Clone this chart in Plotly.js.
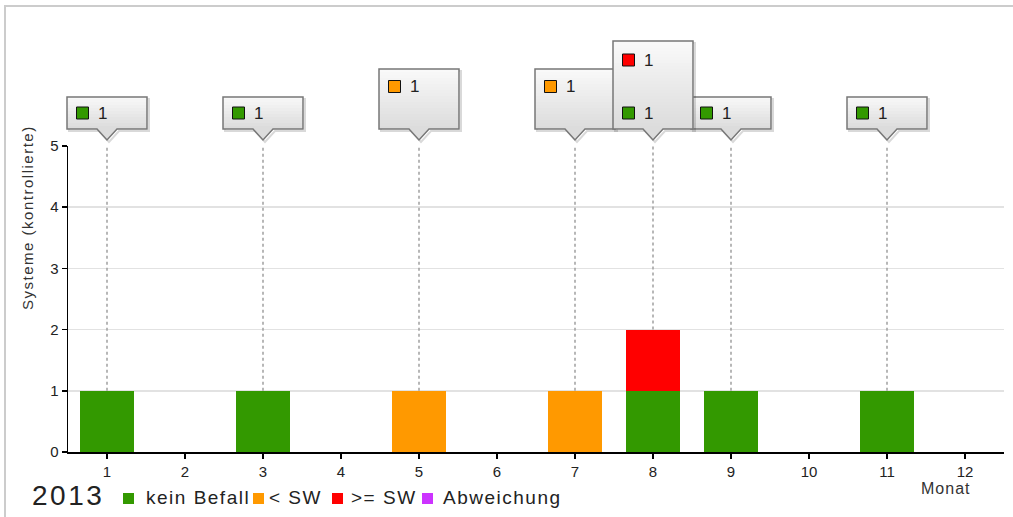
<!DOCTYPE html>
<html>
<head>
<meta charset="utf-8">
<script src="https://cdn.plot.ly/plotly-3.0.1.min.js"></script>
<style>
html,body{margin:0;padding:0;background:#fff;overflow:hidden;}
#frame{position:absolute;left:4px;top:5px;width:1009px;height:512px;border-top:2px solid #cccccc;border-left:2px solid #cccccc;box-sizing:border-box;}
#chart{position:absolute;left:0;top:0;width:1013px;height:517px;}
</style>
</head>
<body>
<div id="frame"></div>
<div id="chart"></div>
<script>
// ---- data ----
const months = [1,2,3,4,5,6,7,8,9,10,11,12];
const monthLabels = ['1','2','3','4','5','6','7','8','9','10','11','12'];
const keinBefall = [1,0,1,0,0,0,0,1,1,0,1,0];
const unterSW    = [0,0,0,0,1,0,1,0,0,0,0,0];
const ueberSW    = [0,0,0,0,0,0,0,1,0,0,0,0];
const abweichung = [0,0,0,0,0,0,0,0,0,0,0,0];
const seriesNames = ['kein Befall','&lt; SW','&gt;= SW','Abweichung'];
const seriesColors = ['#339900','#ff9900','#ff0000','#cc33ff'];
const yTicks = [0,1,2,3,4,5];
const yearLabel = '2013';
const yTitle = 'Systeme (kontrollierte)';
const xTitle = 'Monat';

// ---- styling ----
const FONT = 'Liberation Sans, Arial, sans-serif';
const TXT = '#222222';
const sp = (t, ls) => '<span style="letter-spacing:' + ls + 'px">' + t + '</span>';

const series = [keinBefall, unterSW, ueberSW, abweichung];
const traces = series.map((vals, s) => ({
  type: 'bar',
  x: months,
  y: vals,
  name: seriesNames[s],
  width: 0.68,
  marker: {color: seriesColors[s], line: {width: 0}},
  showlegend: false,
  hoverinfo: 'skip'
}));

const yMax = yTicks[yTicks.length - 1];
const baseShapes = [];
const annotations = [];

function hex(c){return [parseInt(c.substr(1,2),16),parseInt(c.substr(3,2),16),parseInt(c.substr(5,2),16)];}
function lerp(a,b,t){const A=hex(a),B=hex(b);return 'rgb('+A.map((v,i)=>Math.round(v+(B[i]-v)*t)).join(',')+')';}

// callouts: one per month with observations
const callouts = [];
months.forEach((m, i) => {
  const vals = series.map(s => s[i]);
  const total = vals.reduce((a, b) => a + b, 0);
  if (total <= 0) return;
  let maxRow = 0;
  vals.forEach((v, s) => { if (v > 0) maxRow = s + 1; });
  callouts.push({m, vals, total, maxRow});
});
callouts.forEach(c => {
  baseShapes.push({type:'line', xref:'x', yref:'y', x0:c.m, x1:c.m, y0:c.total, y1:yMax,
    line:{color:'#a0a0a0', width:1.5, dash:'dot'}, layer:'above'});
  c.vals.forEach((v, s) => {
    if (v <= 0) return;
    annotations.push({xref:'x', yref:'paper', x:c.m, y:1, xanchor:'left', yanchor:'middle', xshift:-11, yshift:33 + 26.5 * s,
      text:String(v), showarrow:false, font:{family:FONT, size:17, color:TXT}});
  });
});

function calloutShapes(toPaper) {
  const out = [];
  callouts.slice().sort((a,b)=>a.maxRow-b.maxRow).forEach(c => {
    const top = 49 + 28 * (c.maxRow - 1), bot = 17, L = -40, R = 40, tip = 6;
    const base = {xref:'paper', yref:'paper', xsizemode:'pixel', ysizemode:'pixel', xanchor:toPaper(c.m), yanchor:1, layer:'above'};
    const outline = (dx, dy) => 'M'+(L+dx)+','+(top+dy)+'L'+(R+dx)+','+(top+dy)+'L'+(R+dx)+','+(bot+dy)+
        'L'+(10+dx)+','+(bot+dy)+'L'+dx+','+(tip+dy)+'L'+(-10+dx)+','+(bot+dy)+'L'+(L+dx)+','+(bot+dy)+'Z';
    out.push(Object.assign({}, base, {type:'path', path:outline(2,-2), fillcolor:'rgba(0,0,0,0)', line:{color:'rgba(0,0,0,0.15)', width:2}}));
    const step = 3;
    for (let y = bot; y < top; y += step) {
      const y2 = Math.min(top, y + step + 0.6);
      const t = (y - bot) / (top - bot);
      out.push(Object.assign({}, base, {type:'rect', x0:L, x1:R, y0:y, y1:y2, fillcolor:lerp('#dcdcdc','#fafafa',t), line:{width:0}}));
    }
    out.push(Object.assign({}, base, {type:'path', path:'M-10,'+(bot+0.8)+'L10,'+(bot+0.8)+'L0,'+tip+'Z', fillcolor:'#dcdcdc', line:{width:0}}));
    out.push(Object.assign({}, base, {type:'path', path:outline(0,0), fillcolor:'rgba(0,0,0,0)', line:{color:'#777777', width:1.5}}));
    c.vals.forEach((v, s) => {
      if (v <= 0) return;
      const cy = 33 + 26.5 * s;
      out.push(Object.assign({}, base, {type:'rect', x0:-30.5, x1:-18.5, y0:cy-6, y1:cy+6, fillcolor:seriesColors[s], line:{color:'#111111', width:1}}));
    });
  });
  return out;
}

// axis titles as annotations
annotations.push({xref:'paper', yref:'paper', x:0, y:0.765, xshift:-40, xanchor:'center', yanchor:'middle',
  textangle:-90, showarrow:false, text:sp(yTitle,1.5), font:{family:FONT, size:15, color:'#333333'}});
annotations.push({xref:'paper', yref:'paper', x:0, y:0, xshift:877, yshift:-36, xanchor:'center', yanchor:'middle',
  showarrow:false, text:sp(xTitle,1), font:{family:FONT, size:16, color:'#333333'}});

// legend (year + items)
annotations.push({xref:'paper', yref:'paper', x:0, y:0, xshift:-38, yshift:-43, xanchor:'left', yanchor:'middle',
  showarrow:false, text:sp(yearLabel,2.5), font:{family:FONT, size:28, color:TXT}});
const legendSquareLeft = [123, 253, 332, 422];
const legendTextLeft = [145, 268, 350, 442];
seriesNames.forEach((n, s) => {
  baseShapes.push({type:'rect', xref:'paper', yref:'paper', xsizemode:'pixel', ysizemode:'pixel', xanchor:0, yanchor:0,
    x0:legendSquareLeft[s]-68, x1:legendSquareLeft[s]-68+11, y0:-(504-452), y1:-(493-452), fillcolor:seriesColors[s], line:{width:0}});
  annotations.push({xref:'paper', yref:'paper', x:0, y:0, xshift:legendTextLeft[s]-68-1, yshift:-45, xanchor:'left', yanchor:'middle',
    showarrow:false, text:sp(n,1.5), font:{family:FONT, size:19, color:TXT}});
});

const layout = {
  width: 1013, height: 517,
  margin: {l:68, r:9, t:146, b:65, pad:0},
  paper_bgcolor: 'rgba(0,0,0,0)',
  plot_bgcolor: 'rgba(0,0,0,0)',
  barmode: 'stack',
  showlegend: false,
  font: {family: FONT, color: '#333333'},
  xaxis: {
    range: [0.5, 12.5], tickvals: months, ticktext: monthLabels,
    showline: true, linecolor: '#000000', linewidth: 1.5,
    ticks: 'outside', ticklen: 5, tickwidth: 1.5, tickcolor: '#000000',
    showgrid: false, zeroline: false, fixedrange: true,
    tickfont: {family: FONT, size: 15, color: '#222222'}
  },
  yaxis: {
    range: [0, yMax], tickvals: yTicks, ticktext: yTicks.map(String),
    showline: true, linecolor: '#000000', linewidth: 1.5,
    ticks: 'outside', ticklen: 5, tickwidth: 1.5, tickcolor: '#000000',
    showgrid: true, gridcolor: '#e2e2e2', gridwidth: 1.5,
    zeroline: false, fixedrange: true,
    tickfont: {family: FONT, size: 15, color: '#222222'}
  },
  shapes: baseShapes,
  annotations: annotations
};

Plotly.newPlot('chart', traces, layout, {displayModeBar: false, staticPlot: true}).then(gd => {
  const xa = gd._fullLayout.xaxis;
  // paper fraction of a month position, taken from the axis' own scale
  const toPaper = m => xa.l2p(xa.d2l(m)) / xa._length;
  return Plotly.relayout(gd, {shapes: baseShapes.concat(calloutShapes(toPaper))});
});
</script>
</body>
</html>
